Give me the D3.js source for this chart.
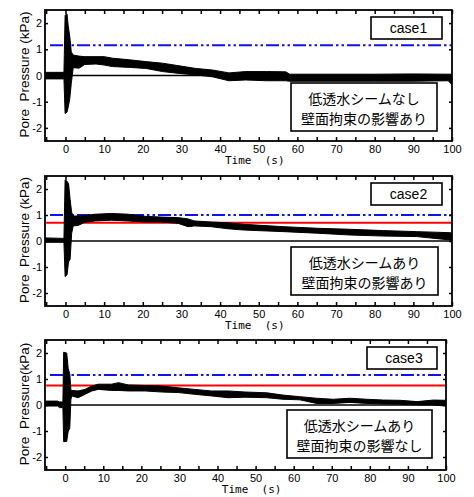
<!DOCTYPE html>
<html>
<head>
<meta charset="utf-8">
<script src="https://cdn.jsdelivr.net/npm/d3@7"></script>
<style>
  body { margin: 0; background: #fff; }
  text { font-family: "Liberation Sans", Arial, sans-serif; fill: #000; }
</style>
</head>
<body>
<script>
// axis ticks
const timeTicks = [0, 10, 20, 30, 40, 50, 60, 70, 80, 90, 100];
const timeMinor = [-5, 0, 5, 10, 15, 20, 25, 30, 35, 40, 45, 50, 55, 60, 65, 70, 75, 80, 85, 90, 95, 100];
const pressTicks = [-2, -1, 0, 1, 2];

// pore pressure records, read as upper / lower edge of the trace (kPa)
const case1Time = [-5.3, -0.4, -0.1, 0.4, 0.7, 1.1, 1.5, 2.0, 3.5, 5, 7.9, 10, 12.2, 16.5, 20.8, 25.1, 29.4, 33.7, 38, 42.3, 46.6, 52, 57, 58, 70, 80, 90, 99, 100];
const case1Hi = [0.12, 0.12, 2.3, 2.35, 1.9, 1.5, 0.9, 0.78, 0.74, 0.72, 0.72, 0.72, 0.66, 0.6, 0.53, 0.47, 0.37, 0.27, 0.21, 0.1, 0.15, 0.15, 0.14, 0.05, 0.05, 0.05, 0.06, 0.05, 0.05];
const case1Lo = [-0.13, -0.13, -1.45, -1.4, -1.2, -0.9, -0.3, 0.3, 0.28, 0.42, 0.44, 0.4, 0.34, 0.31, 0.27, 0.15, 0.08, 0.02, -0.05, -0.2, -0.17, -0.2, -0.2, -0.22, -0.22, -0.22, -0.22, -0.2, -0.35];

const case2Time = [-5.3, -0.4, -0.1, 0.4, 0.8, 1.2, 1.6, 2.0, 3.3, 5, 7.6, 11.9, 16.2, 20.5, 24.8, 29.1, 31.7, 33.4, 37.7, 42, 46.3, 56.5, 65.1, 73.7, 82.3, 90.9, 99.5, 100];
const case2Hi = [0.12, 0.1, 2.35, 2.3, 2.2, 1.6, 1.1, 0.96, 0.96, 0.98, 1.03, 1.06, 1.03, 0.95, 0.92, 0.9, 0.85, 0.77, 0.73, 0.7, 0.64, 0.55, 0.49, 0.45, 0.4, 0.36, 0.32, 0.3];
const case2Lo = [-0.05, -0.05, -1.37, -1.3, -0.8, -0.7, 0.3, 0.58, 0.6, 0.72, 0.77, 0.8, 0.77, 0.73, 0.73, 0.68, 0.55, 0.58, 0.55, 0.47, 0.42, 0.36, 0.3, 0.23, 0.19, 0.17, 0.04, 0.04];

const case3Time = [-5.3, -2, -1.5, -0.6, -0.4, 0.4, 0.8, 1.2, 1.5, 1.7, 3.4, 5.2, 7, 8.7, 12.2, 14, 16.6, 21, 25.3, 29.7, 34, 38.4, 42.8, 47.2, 52.9, 57.2, 61.6, 66, 70.4, 74.8, 79.2, 83.6, 88, 92.4, 96.7, 100];
const case3Hi = [0.15, 0.15, 0.12, 0.12, 2.03, 2.0, 1.4, 1.2, 0.6, 0.56, 0.54, 0.6, 0.73, 0.8, 0.8, 0.86, 0.77, 0.75, 0.73, 0.66, 0.6, 0.54, 0.54, 0.5, 0.47, 0.38, 0.32, 0.26, 0.22, 0.26, 0.22, 0.19, 0.18, 0.13, 0.19, 0.18];
const case3Lo = [-0.04, -0.04, -0.1, -0.1, -1.41, -1.4, -1.0, -0.9, 0.2, 0.35, 0.28, 0.41, 0.54, 0.6, 0.56, 0.56, 0.54, 0.54, 0.5, 0.48, 0.41, 0.35, 0.28, 0.3, 0.28, 0.22, 0.2, 0.06, 0.06, 0.1, 0.06, 0.04, 0.03, 0, 0, -0.04];

// reference levels (kPa)
const blueLevel = [1.15, 1.0, 1.15];
const redLevel = [null, 0.7, 0.75];

const caseNames = ["case1", "case2", "case3"];
const noteLine1 = ["低透水シームなし", "低透水シームあり", "低透水シームあり"];
const noteLine2 = ["壁面拘束の影響あり", "壁面拘束の影響あり", "壁面拘束の影響なし"];
const yTitles = ["Pore\u00a0\u00a0Pressure (kPa)", "Pore\u00a0\u00a0Pressure (kPa)", "Pore\u00a0\u00a0Pressure(kPa)"];

const records = [
  { t: case1Time, hi: case1Hi, lo: case1Lo },
  { t: case2Time, hi: case2Hi, lo: case2Lo },
  { t: case3Time, hi: case3Hi, lo: case3Lo }
];

// where each panel sits on the page
const panels = [
  { top: 10, bottom: 141, right: 452, caseBox: [371, 17, 71, 22], noteBox: [291, 83, 146, 48] },
  { top: 176, bottom: 306, right: 452, caseBox: [371, 183, 71, 22], noteBox: [291, 247, 147, 48] },
  { top: 340, bottom: 470, right: 446, caseBox: [367, 347, 70, 22], noteBox: [287, 410, 145, 48] }
];
const left = 45;
const plain = d => String(d);   // hyphen minus, as in the figure

const svg = d3.select('body').append('svg')
  .attr('width', 474)
  .attr('height', 497);

panels.forEach((p, i) => {
  const x = d3.scaleLinear().domain([-5.3, 100]).range([left, p.right]);
  const y = d3.scaleLinear().domain([-2.5, 2.5]).range([p.bottom, p.top]);
  const g = svg.append('g');

  g.append('clipPath').attr('id', 'clip' + i)
    .append('rect')
    .attr('x', left).attr('y', p.top)
    .attr('width', p.right - left).attr('height', p.bottom - p.top);

  const plot = g.append('g').attr('clip-path', `url(#clip${i})`);

  // reference lines
  plot.append('line')
    .attr('x1', x(-4)).attr('x2', p.right)
    .attr('y1', y(blueLevel[i])).attr('y2', y(blueLevel[i]))
    .attr('stroke', '#1010f0').attr('stroke-width', 2)
    .attr('stroke-dasharray', '13,3,2.5,3,2.5,3');

  if (redLevel[i] !== null) {
    plot.append('line')
      .attr('x1', x(-5)).attr('x2', p.right)
      .attr('y1', y(redLevel[i])).attr('y2', y(redLevel[i]))
      .attr('stroke', '#ff0000').attr('stroke-width', 2);
  }

  plot.append('line')
    .attr('x1', x(0.3)).attr('x2', p.right)
    .attr('y1', y(0)).attr('y2', y(0))
    .attr('stroke', '#000').attr('stroke-width', 1.5);

  // the record itself, drawn as its band
  const rec = records[i];
  const band = rec.t.map((t, k) => ({ t, hi: rec.hi[k], lo: rec.lo[k] }));
  plot.append('path')
    .datum(band)
    .attr('d', d3.area().x(d => x(d.t)).y0(d => y(d.lo)).y1(d => y(d.hi)))
    .attr('fill', '#000')
    .attr('stroke', '#000')
    .attr('stroke-width', 1);

  // axes, ticks pointing inward
  const bottomAx = g.append('g').attr('transform', `translate(0,${p.bottom})`)
    .call(d3.axisBottom(x).tickValues(timeTicks).tickSize(0).tickPadding(4).tickFormat(plain));
  bottomAx.selectAll('text').attr('font-size', 11).attr('font-family', '"Liberation Sans", Arial, sans-serif');

  g.append('g').attr('transform', `translate(0,${p.bottom})`)
    .call(d3.axisBottom(x).tickValues(timeMinor).tickSize(-4).tickFormat(''));
  g.append('g').attr('transform', `translate(0,${p.top})`)
    .call(d3.axisTop(x).tickValues(timeMinor).tickSize(-4).tickFormat(''));

  const leftAx = g.append('g').attr('transform', `translate(${left},0)`)
    .call(d3.axisLeft(y).tickValues(pressTicks).tickSizeInner(-3).tickSizeOuter(0).tickPadding(3).tickFormat(plain));
  leftAx.selectAll('text').attr('font-size', 11).attr('font-family', '"Liberation Sans", Arial, sans-serif');
  g.append('g').attr('transform', `translate(${p.right},0)`)
    .call(d3.axisRight(y).tickValues(pressTicks).tickSize(-3).tickFormat(''));

  g.selectAll('.domain').remove();
  g.selectAll('.tick line').attr('stroke', '#000').attr('stroke-width', 1.5);

  // frame
  g.append('rect')
    .attr('x', left).attr('y', p.top)
    .attr('width', p.right - left).attr('height', p.bottom - p.top)
    .attr('fill', 'none').attr('stroke', '#000').attr('stroke-width', 1.8);

  // case label
  const cb = p.caseBox;
  g.append('rect').attr('x', cb[0]).attr('y', cb[1]).attr('width', cb[2]).attr('height', cb[3])
    .attr('fill', '#fff').attr('stroke', '#000').attr('stroke-width', 1.6);
  g.append('text').attr('x', cb[0] + cb[2] / 2 + 2).attr('y', cb[1] + cb[3] / 2 + 5)
    .attr('text-anchor', 'middle').attr('font-size', 14).text(caseNames[i]);

  // condition note
  const nb = p.noteBox;
  g.append('rect').attr('x', nb[0]).attr('y', nb[1]).attr('width', nb[2]).attr('height', nb[3])
    .attr('fill', '#fff').attr('stroke', '#000').attr('stroke-width', 1.6);
  g.append('text').attr('x', nb[0] + nb[2] / 2).attr('y', nb[1] + 21)
    .attr('text-anchor', 'middle').attr('font-size', 14)
    .style('font-family', '"Noto Sans CJK JP", sans-serif').text(noteLine1[i]);
  g.append('text').attr('x', nb[0] + nb[2] / 2).attr('y', nb[1] + 41)
    .attr('text-anchor', 'middle').attr('font-size', 14)
    .style('font-family', '"Noto Sans CJK JP", sans-serif').text(noteLine2[i]);

  // axis titles
  g.append('text')
    .attr('transform', `translate(29,${(p.top + p.bottom) / 2 - 1}) rotate(-90)`)
    .attr('text-anchor', 'middle').attr('font-size', 13.5)
    .text(yTitles[i]);

  g.append('text')
    .attr('x', x(50) - 4).attr('y', p.bottom + 23)
    .attr('text-anchor', 'middle').attr('font-size', 11)
    .style('font-family', '"DejaVu Sans Mono", monospace')
    .text('Time\u00a0\u00a0(s)');
});
</script>
</body>
</html>
